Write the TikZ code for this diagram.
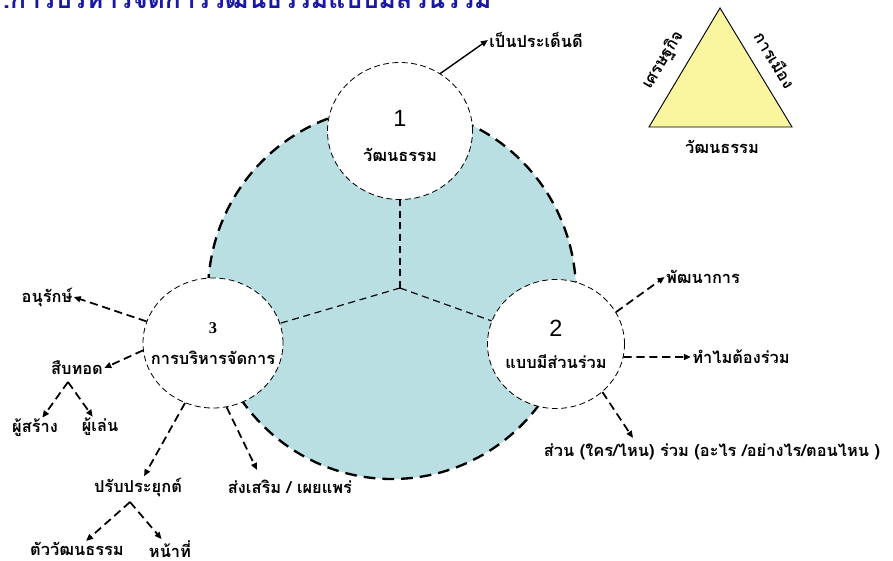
\documentclass[tikz,border=0pt]{standalone}
\usepackage{fontspec}
\newfontfamily\thaifont[Script=Thai]{Loma}
\newfontfamily\numfont{Liberation Sans}
\newfontfamily\serifnum{Liberation Serif}
\usetikzlibrary{arrows.meta,positioning,shapes.geometric,calc}

\definecolor{ringblue}{RGB}{185,223,227}
\definecolor{triyellow}{RGB}{250,246,160}
\definecolor{titleblue}{RGB}{25,25,165}

\tikzset{
  topic/.style={ellipse, draw, line width=0.7pt, dash pattern=on 5pt off 3pt, fill=white, inner sep=0pt},
  thai/.style={font=\thaifont\bfseries\fontsize{14}{16}\selectfont, inner sep=1pt},
  num/.style={font=\numfont\fontsize{20}{20}\selectfont, inner sep=0pt},
  dasharrow/.style={draw, line width=1.5pt, dash pattern=on 7pt off 4pt, -{Triangle[length=6pt,width=5pt]}},
  spoke/.style={draw, line width=1pt, dash pattern=on 6pt off 4pt},
}

\begin{document}
\begin{tikzpicture}[x=0.03cm,y=-0.03cm]
\useasboundingbox (0,0) rectangle (893,561);
\clip (0,0) rectangle (893,561);

% title, cut at the top
\node[font=\thaifont\bfseries\fontsize{22.5}{24}\selectfont, text=titleblue, anchor=base west, inner sep=0pt] (title) at (-12,8) {1.การบริหารจัดการวัฒนธรรมแบบมีส่วนร่วม};

% big ring and its spokes
\draw[fill=ringblue, line width=2pt, dash pattern=on 10pt off 6pt] (392,293) ellipse [x radius=5.52cm, y radius=5.58cm];
\coordinate (hub) at (400,288);

\node[topic, minimum width=4.35cm, minimum height=4.11cm] (c1) at (400,131) {};
\node[topic, minimum width=4.11cm, minimum height=3.87cm] (c2) at (556,344) {};
\node[topic, minimum width=4.2cm, minimum height=3.9cm] (c3) at (213,343) {};

\path[spoke] (hub) -- (c1);
\path[spoke] (hub) -- (c2);
\path[spoke] (hub) -- (c3);

% texts in the circles
\node[num] (n1) at (400,118) {1};
\node[thai] (t1) at (400,155) {วัฒนธรรม};
\node[num] (n2) at (556,328) {2};
\node[thai] (t2) at (556,362) {แบบมีส่วนร่วม};
\node[font=\serifnum\bfseries\fontsize{14}{14}\selectfont, inner sep=0pt] (n3) at (213,328) {3};
\node[thai] (t3) at (213,358) {การบริหารจัดการ};

% labels round the circles
\node[thai] (issue) at (536,40) {เป็นประเด็นดี};
\node[thai] (dev) at (703,277) {พัฒนาการ};
\node[thai] (why) at (741,357) {ทำไมต้องร่วม};
\node[thai] (who) at (712,452) {ส่วน (ใคร/ไหน) ร่วม (อะไร /อย่างไร/ตอนไหน )};
\node[thai] (cons) at (47,297) {อนุรักษ์};
\node[thai] (inherit) at (77,368) {สืบทอด};
\node[thai] (creator) at (35,428) {ผู้สร้าง};
\node[thai] (player) at (100,427) {ผู้เล่น};
\node[thai] (adapt) at (138,487) {ปรับประยุกต์};
\node[thai] (promo) at (290,487) {ส่งเสริม / เผยแพร่};
\node[thai] (culture) at (77,549) {ตัววัฒนธรรม};
\node[thai] (duty) at (170,549) {หน้าที่};

\coordinate (whotip) at (633,438);
\coordinate (promotip) at (257,470);
\coordinate (fork1) at (68,382);
\coordinate (fork2) at (130,502);

\draw[line width=1.2pt, -{Triangle[length=6pt,width=5pt]}] (c1.55) -- (issue.west);
\path[dasharrow] (c2.28) -- (dev.west);
\path[dasharrow] (c2.-11) -- (why.west);
\path[dasharrow] (c2.-46) -- (whotip);
\path[dasharrow] (c3.162) -- (cons.east);
\path[dasharrow] (c3.186) -- (inherit.east);
\path[dasharrow] (fork1) -- (creator);
\path[dasharrow] (fork1) -- (player);
\path[dasharrow] (c3.245) -- (adapt);
\path[dasharrow] (c3.282) -- (promotip);
\path[dasharrow] (fork2) -- (culture);
\path[dasharrow] (fork2) -- (duty);

% triangle
\coordinate (apex) at (720,8);
\coordinate (tl) at (649,127);
\coordinate (tr) at (792,127);
\draw[fill=triyellow, line width=0.8pt] (apex) -- (tl) -- (tr) -- cycle;
\node[thai, rotate=59] (econ) at (663,60) {เศรษฐกิจ};
\node[thai, rotate=-59] (poli) at (775,60) {การเมือง};
\node[thai] (cult) at (722,147) {วัฒนธรรม};
\end{tikzpicture}
\end{document}
